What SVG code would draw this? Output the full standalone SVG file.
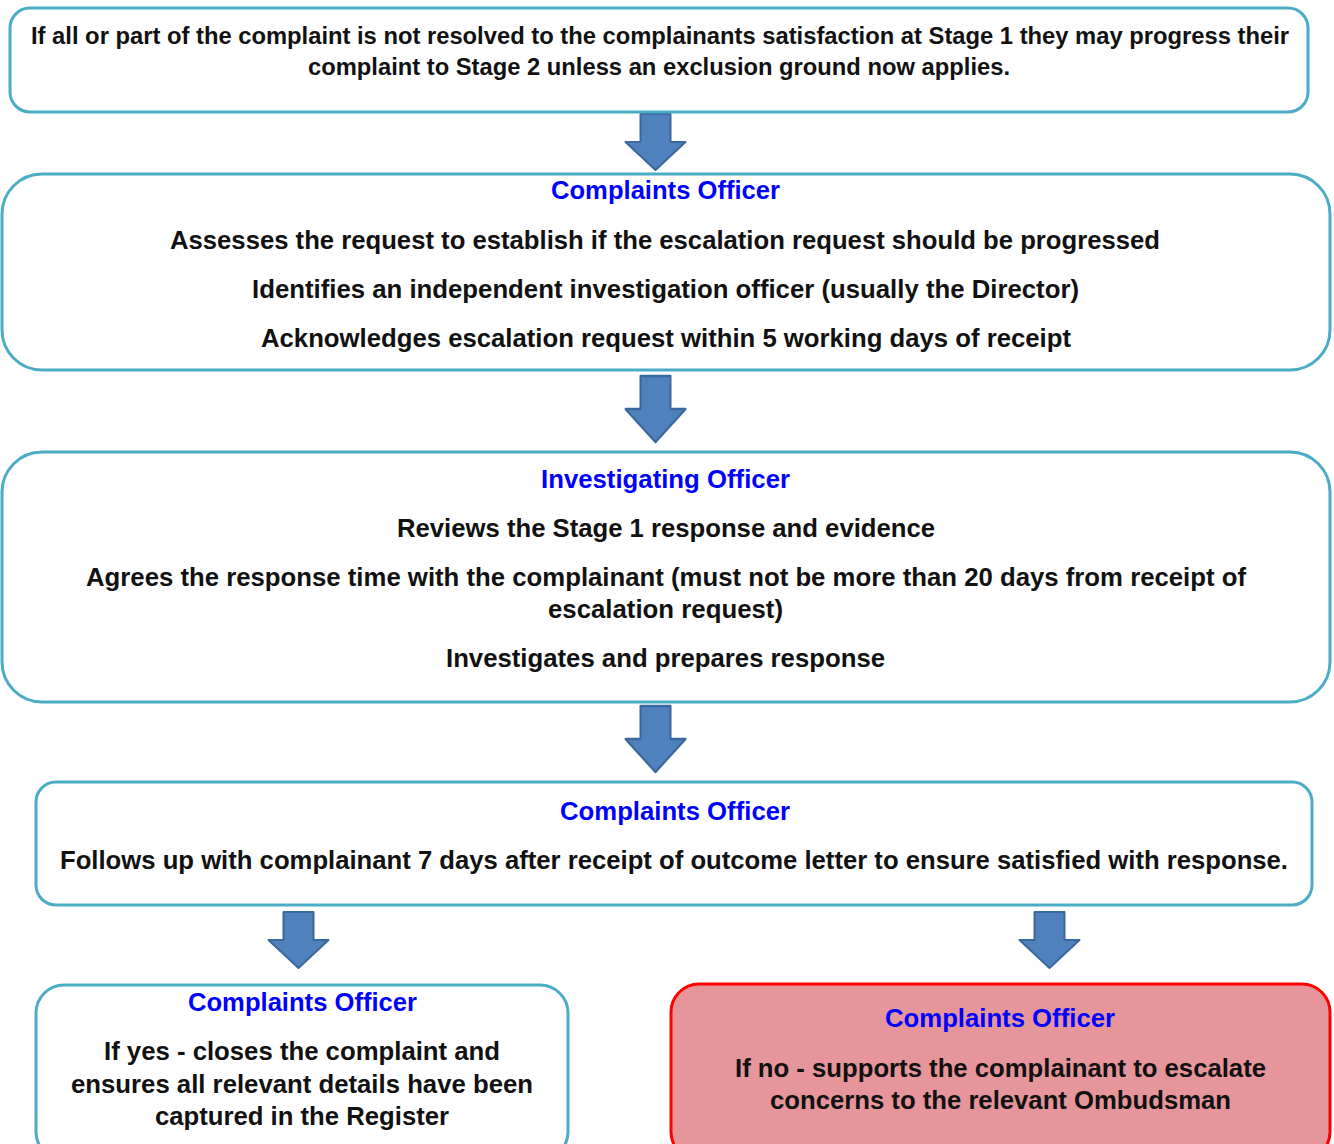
<svg xmlns="http://www.w3.org/2000/svg" width="1334" height="1144" viewBox="0 0 1334 1144">
<defs>
<style>
.box{fill:#ffffff;stroke:#4BACC6;stroke-width:3}
.red{fill:#E6959A;stroke:#FF0000;stroke-width:3}
.t{font-family:"Liberation Sans",Arial,sans-serif;font-weight:bold;font-size:25px;fill:#111111;text-anchor:middle}
.h{font-family:"Liberation Sans",Arial,sans-serif;font-weight:bold;font-size:25px;fill:#0000FF;text-anchor:middle}
.n{font-family:"Liberation Sans Narrow","Liberation Sans",Arial,sans-serif;font-weight:bold;font-size:23px;fill:#111111;text-anchor:middle}
.arr{fill:#4F81BD;stroke:#3A679C;stroke-width:2;stroke-linejoin:round}
</style>
<path id="arrow" d="M -15 0 L 15 0 L 15 28 L 30 28 L 0 56 L -30 28 L -15 28 Z"/>
</defs>
<g id="connectors">
<use href="#arrow" class="arr" transform="translate(655.5,114)"/>
<use href="#arrow" class="arr" transform="translate(655.5,376) scale(1,1.18)"/>
<use href="#arrow" class="arr" transform="translate(655.5,706) scale(1,1.18)"/>
<use href="#arrow" class="arr" transform="translate(298.5,912)"/>
<use href="#arrow" class="arr" transform="translate(1049.5,912)"/>
</g>
<g id="node1">
<rect class="box" x="10" y="8" width="1298" height="104" rx="20"/>
<text class="n" x="660" y="44" textLength="1258" lengthAdjust="spacingAndGlyphs">If all or part of the complaint is not resolved to the complainants satisfaction at Stage 1 they may progress their</text>
<text class="n" x="659" y="75" textLength="702" lengthAdjust="spacingAndGlyphs">complaint to Stage 2 unless an exclusion ground now applies.</text>
</g>
<g id="node2">
<rect class="box" x="2" y="174" width="1328" height="196" rx="40"/>
<text class="h" x="665.5" y="199" textLength="229" lengthAdjust="spacingAndGlyphs">Complaints Officer</text>
<text class="t" x="665" y="249" textLength="990" lengthAdjust="spacingAndGlyphs">Assesses the request to establish if the escalation request should be progressed</text>
<text class="t" x="665.5" y="298" textLength="827" lengthAdjust="spacingAndGlyphs">Identifies an independent investigation officer (usually the Director)</text>
<text class="t" x="666" y="347" textLength="810" lengthAdjust="spacingAndGlyphs">Acknowledges escalation request within 5 working days of receipt</text>
</g>
<g id="node3">
<rect class="box" x="2" y="452" width="1328" height="250" rx="40"/>
<text class="h" x="665.5" y="488" textLength="249" lengthAdjust="spacingAndGlyphs">Investigating Officer</text>
<text class="t" x="666" y="537" textLength="538" lengthAdjust="spacingAndGlyphs">Reviews the Stage 1 response and evidence</text>
<text class="t" x="666" y="586" textLength="1160" lengthAdjust="spacingAndGlyphs">Agrees the response time with the complainant (must not be more than 20 days from receipt of</text>
<text class="t" x="665.5" y="618" textLength="235" lengthAdjust="spacingAndGlyphs">escalation request)</text>
<text class="t" x="665.5" y="667" textLength="439" lengthAdjust="spacingAndGlyphs">Investigates and prepares response</text>
</g>
<g id="node4">
<rect class="box" x="36" y="782" width="1276" height="123" rx="20"/>
<text class="h" x="675" y="820" textLength="230" lengthAdjust="spacingAndGlyphs">Complaints Officer</text>
<text class="t" x="674" y="869" textLength="1228" lengthAdjust="spacingAndGlyphs">Follows up with complainant 7 days after receipt of outcome letter to ensure satisfied with response.</text>
</g>
<g id="node5">
<rect class="box" x="36" y="985" width="532" height="175" rx="28"/>
<text class="h" x="302.5" y="1011" textLength="229" lengthAdjust="spacingAndGlyphs">Complaints Officer</text>
<text class="t" x="302" y="1060" textLength="396" lengthAdjust="spacingAndGlyphs">If yes - closes the complaint and</text>
<text class="t" x="302" y="1093" textLength="462" lengthAdjust="spacingAndGlyphs">ensures all relevant details have been</text>
<text class="t" x="302" y="1125" textLength="294" lengthAdjust="spacingAndGlyphs">captured in the Register</text>
</g>
<g id="node6">
<rect class="red" x="671" y="984" width="659" height="176" rx="28"/>
<text class="h" x="1000" y="1027" textLength="230" lengthAdjust="spacingAndGlyphs">Complaints Officer</text>
<text class="t" x="1000.5" y="1077" textLength="531" lengthAdjust="spacingAndGlyphs">If no - supports the complainant to escalate</text>
<text class="t" x="1000.5" y="1109" textLength="461" lengthAdjust="spacingAndGlyphs">concerns to the relevant Ombudsman</text>
</g>
</svg>
